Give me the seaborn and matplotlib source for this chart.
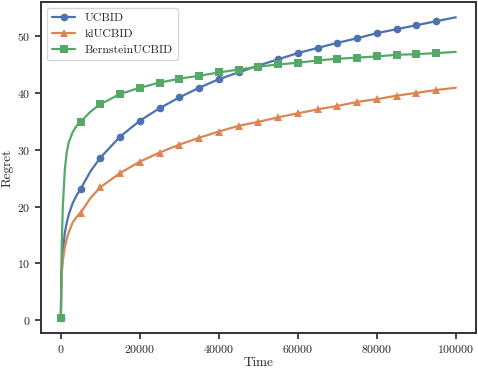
import numpy as np
import matplotlib
matplotlib.use("Agg")
import matplotlib.pyplot as plt
import seaborn as sns

# time steps (markers every 5000 steps)
time = [0, 100, 250, 500, 1000, 1500, 2000, 3000, 4000, 5000, 7500,
        10000, 15000, 20000, 25000, 30000, 35000, 40000, 45000, 50000,
        55000, 60000, 65000, 70000, 75000, 80000, 85000, 90000, 95000, 100000]

ucbid = [0.4, 5.5, 9.0, 12.0, 15.4, 17.2, 18.6, 20.6, 22.0, 23.1, 26.2,
         28.6, 32.3, 35.1, 37.3, 39.2, 40.9, 42.4, 43.6, 44.8,
         45.9, 47.0, 47.9, 48.8, 49.6, 50.5, 51.2, 51.9, 52.6, 53.3]

klucbid = [0.4, 5.0, 8.5, 10.5, 12.8, 14.3, 15.5, 17.2, 18.2, 18.9, 21.5,
           23.4, 25.9, 27.9, 29.5, 30.9, 32.1, 33.2, 34.2, 34.9,
           35.7, 36.4, 37.1, 37.7, 38.4, 38.9, 39.5, 40.0, 40.5, 40.9]

bernstein = [0.4, 8.0, 14.0, 20.0, 26.5, 29.6, 31.3, 33.1, 34.2, 34.9, 36.7,
             38.0, 39.8, 40.9, 41.8, 42.5, 43.0, 43.6, 44.1, 44.6,
             45.0, 45.3, 45.7, 46.0, 46.2, 46.4, 46.7, 46.8, 47.0, 47.2]

sns.set_theme(style="ticks", palette="deep")
plt.rcParams["font.family"] = "serif"
plt.rcParams["font.serif"] = ["cmr10"]
plt.rcParams["mathtext.fontset"] = "cm"
plt.rcParams["axes.formatter.use_mathtext"] = True

fig, ax = plt.subplots(figsize=(4.78, 3.70), dpi=100)

marks = [i for i, t in enumerate(time) if t % 5000 == 0 and t < 100000]
colors = sns.color_palette("deep")

sns.lineplot(x=time, y=ucbid, ax=ax, color=colors[0], marker="o", markevery=marks,
             markersize=5.5, markeredgewidth=0, lw=1.6, label="UCBID")
sns.lineplot(x=time, y=klucbid, ax=ax, color=colors[1], marker="^", markevery=marks,
             markersize=6, markeredgewidth=0, lw=1.6, label="klUCBID")
sns.lineplot(x=time, y=bernstein, ax=ax, color=colors[2], marker="s", markevery=marks,
             markersize=5.5, markeredgewidth=0, lw=1.6, label="BernsteinUCBID")

ax.set_xlabel("Time", fontsize=9.5, labelpad=1)
ax.set_ylabel("Regret", fontsize=9.5, labelpad=3)
ax.set_xticks([0, 20000, 40000, 60000, 80000, 100000])
ax.set_yticks([0, 10, 20, 30, 40, 50])
ax.tick_params(labelsize=8.5, length=4, width=1.2)
for s in ax.spines.values():
    s.set_linewidth(1.4)
    s.set_color("#333333")
ax.legend(loc="upper left", fontsize=8.5)

plt.subplots_adjust(left=0.086, right=0.995, top=0.994, bottom=0.1)
plt.savefig("out.png")
